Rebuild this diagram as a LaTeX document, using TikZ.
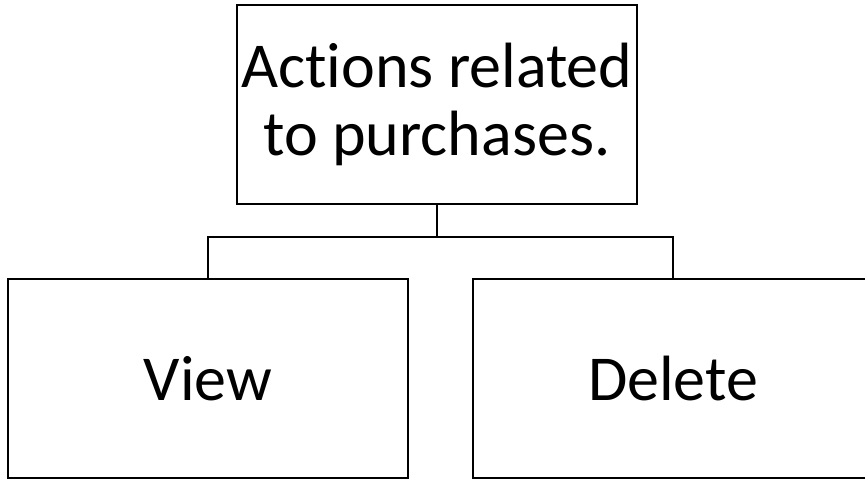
\documentclass[tikz,border=0pt]{standalone}
\usepackage{fontspec}
\setmainfont{Carlito}[Ligatures=NoCommon,RawFeature={-liga;-dlig;-clig}]
\begin{document}
\begin{tikzpicture}[x=1pt,y=1pt,
  box/.style={draw=black, line width=2pt, fill=white, inner sep=0pt, align=center,
    font=\fontsize{64}{68}\selectfont},
  conn/.style={draw=black, line width=2pt}]
\clip (0,0) rectangle (865,-480);
\fill[white] (0,0) rectangle (865,-480);
\node[box, minimum width=400.5pt, minimum height=199pt] (top) at (436.75,-104.5) {Actions related\\to purchases.};
\node[box, minimum width=400pt, minimum height=199pt] (view) at (208,-378.5) {View};
\node[box, minimum width=400pt, minimum height=199pt] (del) at (673,-378.5) {Delete};
\coordinate (j) at (436.75,-237);
\draw[conn] (top.south) -- (j);
\draw[conn] (view.north) |- (j) -| (del.north);
\end{tikzpicture}
\end{document}
